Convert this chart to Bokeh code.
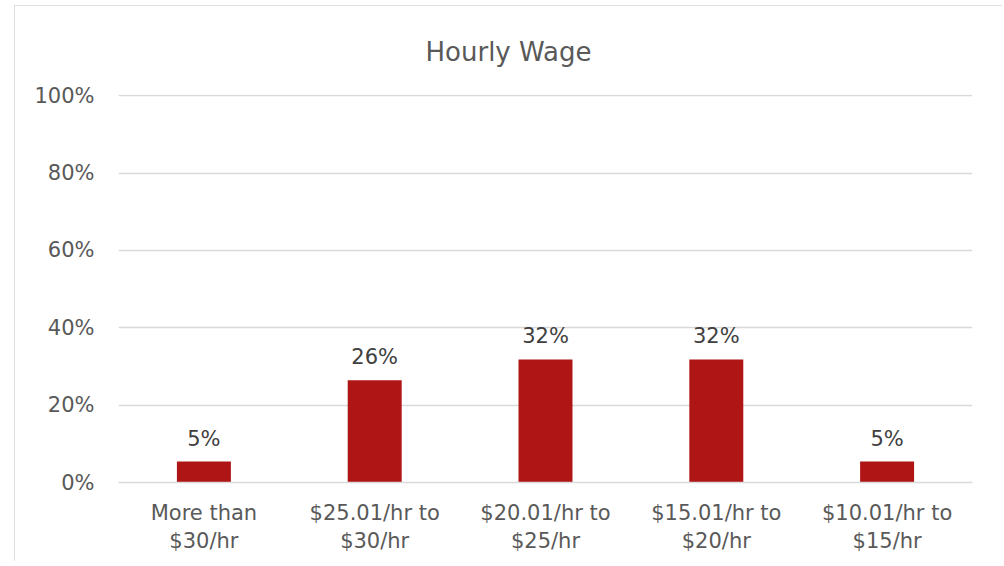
from bokeh.plotting import figure
from bokeh.models import ColumnDataSource, FactorRange, Range1d, NumeralTickFormatter, FixedTicker
from bokeh.core.properties import value
from bokeh.embed import file_html
from bokeh.resources import INLINE

title_text = "Hourly Wage"
categories = ["More than\n$30/hr", "$25.01/hr to\n$30/hr", "$20.01/hr to\n$25/hr",
              "$15.01/hr to\n$20/hr", "$10.01/hr to\n$15/hr"]
shares = [0.054, 0.264, 0.318, 0.318, 0.054]
share_labels = ["5%", "26%", "32%", "32%", "5%"]
y_ticks = [0, 0.2, 0.4, 0.6, 0.8, 1.0]

FONT = "DejaVu Sans"

src = ColumnDataSource(dict(cat=categories, val=shares, lab=share_labels))

p = figure(width=988, height=558, output_backend="svg", toolbar_location=None,
           x_range=FactorRange(*categories, range_padding=0),
           y_range=Range1d(0, 1.003),
           min_border_left=104, min_border_right=30, min_border_top=89, min_border_bottom=81)

p.styles = {"margin-left": "14px", "margin-top": "5px",
            "outline": "2px solid #d4d4d4", "outline-offset": "-2px",
            "clip-path": "inset(0 0 2px 0)"}

p.title.text = title_text
p.title.align = "left"
p.title.offset = 307
p.title.standoff = 55
p.title.text_font = FONT
p.title.text_font_size = "26px"
p.title.text_font_style = "normal"
p.title.text_color = "#595959"

p.vbar(x="cat", top="val", width=0.316, source=src, fill_color="#b01516", line_color=None)
p.text(x="cat", y="val", text="lab", source=src, text_align="center", text_baseline="bottom",
       y_offset=-11, text_font=value(FONT), text_font_size="21px", text_color="#404040")

p.outline_line_color = None
p.xgrid.grid_line_color = None
p.ygrid.grid_line_color = "#d9d9d9"
p.ygrid.grid_line_width = 1.5

p.yaxis.ticker = FixedTicker(ticks=y_ticks)
p.yaxis.formatter = NumeralTickFormatter(format="0%")
for ax in (p.xaxis, p.yaxis):
    ax.axis_line_color = None
    ax.major_tick_line_color = None
    ax.minor_tick_line_color = None
    ax.major_label_text_font = FONT
    ax.major_label_text_font_size = "21px"
    ax.major_label_text_color = "#595959"
p.xaxis.axis_line_color = "#d9d9d9"
p.xaxis.axis_line_width = 1.5
p.yaxis.major_label_standoff = 18
p.xaxis.major_label_standoff = 12

open("out.html", "w").write(file_html(p, INLINE))
